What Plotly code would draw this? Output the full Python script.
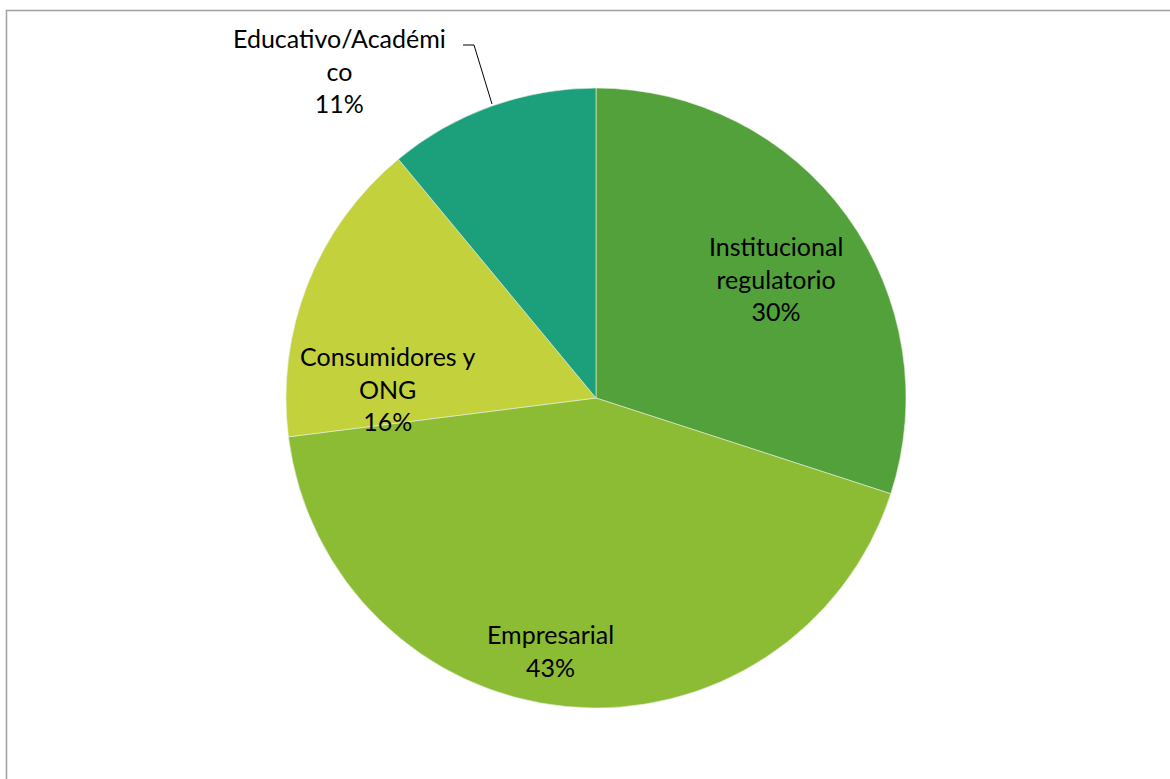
import plotly.graph_objects as go

categories = ["Institucional regulatorio", "Empresarial", "Consumidores y ONG", "Educativo/Académico"]
values = [30, 43, 16, 11]
colors = ["#53a13a", "#8cbb34", "#c3d23c", "#1c9f7b"]
label_lines = [["Institucional", "regulatorio"], ["Empresarial"], ["Consumidores y", "ONG"], ["Educativo/Académi", "co"]]

W, H = 1170, 779
cx, cy, r = 596, 398, 310

fig = go.Figure(go.Pie(
    labels=categories,
    values=values,
    sort=False,
    direction="clockwise",
    rotation=0,
    marker=dict(colors=colors, line=dict(color="#e8f0e0", width=0.6)),
    textinfo="none",
    hoverinfo="label+percent",
    showlegend=False,
    domain=dict(x=[(cx - r) / W, (cx + r) / W], y=[(H - cy - r) / H, (H - cy + r) / H]),
))

# label positions (pixel centres of first line)
label_pos = [(776, 248), (550, 636), (387, 358), (339, 40)]
total = sum(values)
for lines, v, (lx, ly) in zip(label_lines, values, label_pos):
    txt = "<br>".join(lines + [f"{round(100 * v / total)}%"])
    fig.add_annotation(
        x=lx / W, y=1 - (ly - 19) / H, xref="paper", yref="paper",
        text=txt, showarrow=False, xanchor="center", yanchor="top",
        font=dict(family="Lato", size=25, color="#000000"), align="center",
    )

# leader line for the outside label
pts = [(463, 45), (474, 45), (492, 104)]
path = "M " + " L ".join(f"{x / W},{1 - y / H}" for x, y in pts)
fig.add_shape(type="path", path=path, xref="paper", yref="paper",
              line=dict(color="#000000", width=1))

# chart frame
fig.add_shape(type="rect", xref="paper", yref="paper",
              x0=6.5 / W, y0=-0.05, x1=1.05, y1=1 - 10.5 / H,
              line=dict(color="#a0a0a0", width=1.5), fillcolor="rgba(0,0,0,0)")

fig.update_layout(
    width=W, height=H,
    margin=dict(l=0, r=0, t=0, b=0),
    paper_bgcolor="white", plot_bgcolor="white",
)

fig.write_html("out.html", config={"displayModeBar": False},
               post_script="document.body.style.margin='0';document.body.style.overflow='hidden';")
